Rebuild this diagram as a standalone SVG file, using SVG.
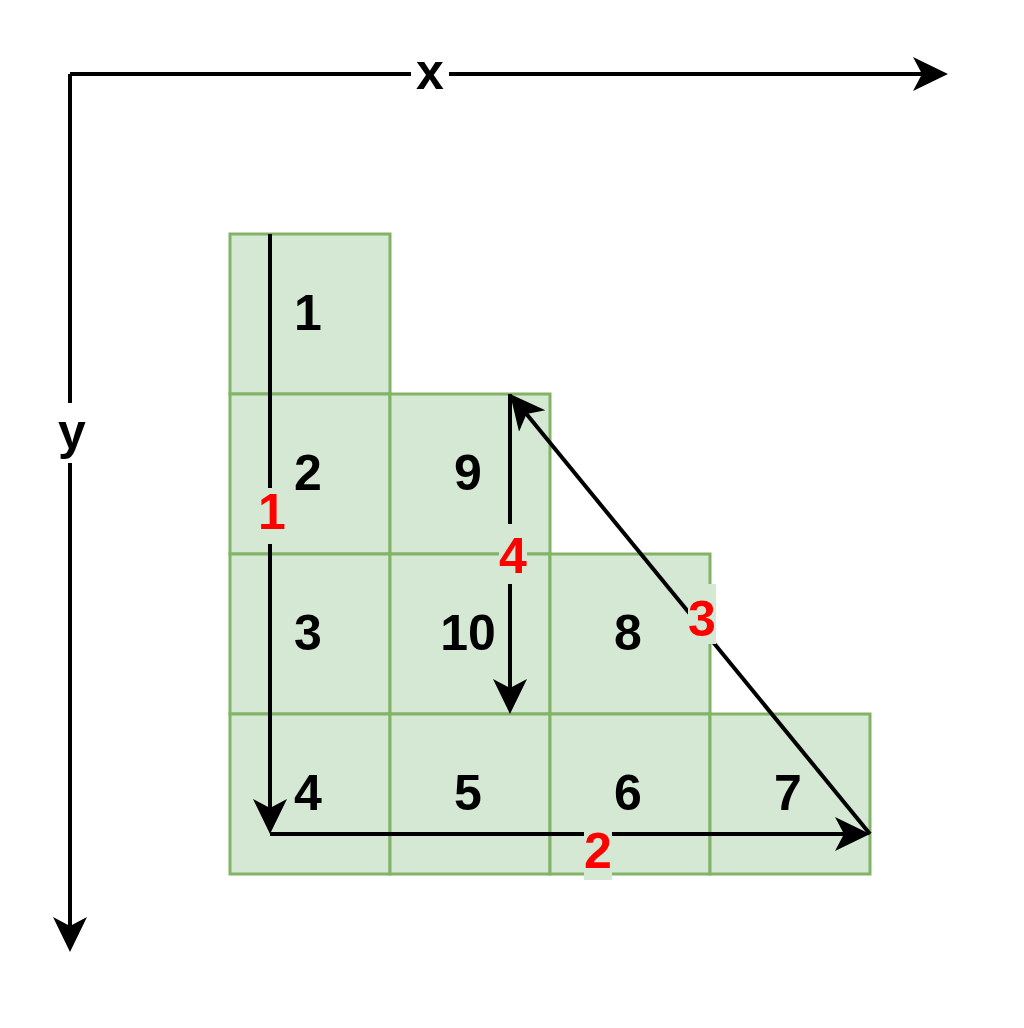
<svg xmlns="http://www.w3.org/2000/svg" width="1024" height="1028" viewBox="0 0 1024 1028">
<style>
.cell{fill:#d5e8d4;stroke:#82b366;stroke-width:3}
.num{font-family:"Liberation Sans",Arial,sans-serif;font-weight:bold;font-size:50px;fill:#000;text-anchor:middle}
.lbl{font-family:"Liberation Sans",Arial,sans-serif;font-weight:bold;font-size:50px;fill:#ff0000;text-anchor:middle}
.ax{font-family:"Liberation Sans",Arial,sans-serif;font-weight:bold;font-size:50px;fill:#000;text-anchor:middle}
.ln{stroke:#000;stroke-width:4;fill:none}
</style>
<defs>
<marker id="arr" markerUnits="userSpaceOnUse" markerWidth="40" markerHeight="40" viewBox="0 -20 40 40" refX="9" refY="0" orient="auto">
<path d="M35,0 L0,-17 L9,0 L0,17 Z" fill="#000"/>
</marker>
</defs>
<rect width="1024" height="1028" fill="#fff"/>
<g id="cells">
<g id="c1"><rect class="cell" x="230" y="234" width="160" height="160"/><text class="num" x="308" y="330">1</text></g>
<g id="c2"><rect class="cell" x="230" y="394" width="160" height="160"/><text class="num" x="308" y="490">2</text></g>
<g id="c9"><rect class="cell" x="390" y="394" width="160" height="160"/><text class="num" x="468" y="490">9</text></g>
<g id="c3"><rect class="cell" x="230" y="554" width="160" height="160"/><text class="num" x="308" y="650">3</text></g>
<g id="c10"><rect class="cell" x="390" y="554" width="160" height="160"/><text class="num" x="468" y="650">10</text></g>
<g id="c8"><rect class="cell" x="550" y="554" width="160" height="160"/><text class="num" x="628" y="650">8</text></g>
<g id="c4"><rect class="cell" x="230" y="714" width="160" height="160"/><text class="num" x="308" y="810">4</text></g>
<g id="c5"><rect class="cell" x="390" y="714" width="160" height="160"/><text class="num" x="468" y="810">5</text></g>
<g id="c6"><rect class="cell" x="550" y="714" width="160" height="160"/><text class="num" x="628" y="810">6</text></g>
<g id="c7"><rect class="cell" x="710" y="714" width="160" height="160"/><text class="num" x="788" y="810">7</text></g>
</g>
<g id="connectors">
<line class="ln" x1="70" y1="74" x2="922" y2="74" marker-end="url(#arr)"/>
<line class="ln" x1="70" y1="74" x2="70" y2="926" marker-end="url(#arr)"/>
<line class="ln" x1="270" y1="234" x2="270" y2="808" marker-end="url(#arr)"/>
<line class="ln" x1="270" y1="834" x2="844" y2="834" marker-end="url(#arr)"/>
<line class="ln" x1="870" y1="834" x2="526.5" y2="414.1" marker-end="url(#arr)"/>
<line class="ln" x1="510" y1="394" x2="510" y2="688" marker-end="url(#arr)"/>
</g>
<g id="labels">
<rect x="411" y="54" width="38" height="40" fill="#fff"/>
<text class="ax" x="430" y="89">x</text>
<rect x="56" y="403" width="32" height="60" fill="#fff"/>
<text class="ax" x="72" y="449">y</text>
<rect x="258" y="488" width="28" height="56" fill="#d5e8d4"/>
<text class="lbl" x="272" y="529">1</text>
<rect x="584" y="824" width="28" height="56" fill="#d5e8d4"/>
<text class="lbl" x="598" y="868">2</text>
<rect x="688" y="584" width="28" height="60" fill="#d5e8d4"/>
<text class="lbl" x="702" y="636">3</text>
<rect x="499" y="524" width="28" height="60" fill="#d5e8d4"/>
<text class="lbl" x="513" y="573">4</text>
</g>
</svg>
